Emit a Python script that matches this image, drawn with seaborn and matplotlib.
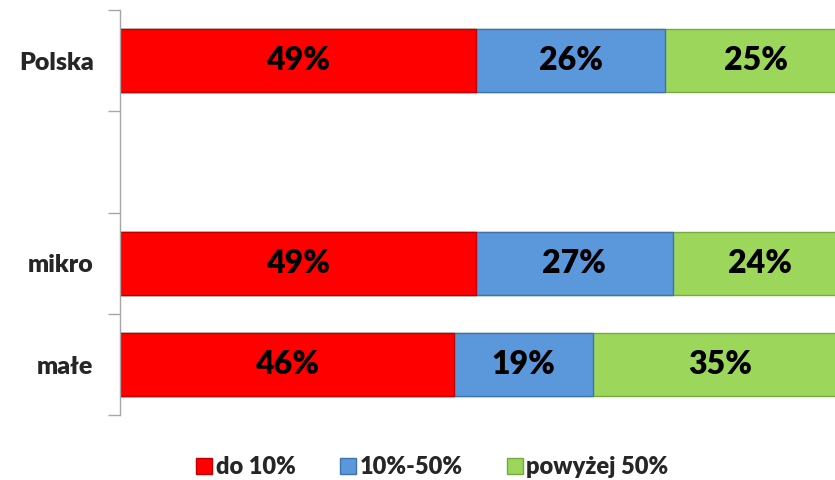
import numpy as np
import pandas as pd
import seaborn as sns
import matplotlib.pyplot as plt
from matplotlib.lines import Line2D

# shares of firms by group (percent)
categories = ["Polska", " ", "mikro", "małe"]
do_10 = [49, np.nan, 49, 46]
od_10_do_50 = [26, np.nan, 27, 19]
powyzej_50 = [25, np.nan, 24, 35]
series_names = ["do 10%", "10%-50%", "powyżej 50%"]
colors = ["#FF0000", "#5B97DB", "#9CD75B"]
edges = ["#C00000", "#3F73B0", "#76A93E"]

sns.set_style("white")
plt.rcParams['font.family'] = ['Lato', 'DejaVu Sans']

dat = pd.DataFrame({"kat": categories, "a": do_10, "b": od_10_do_50, "c": powyzej_50})
dat["ab"] = dat["a"] + dat["b"]
dat["abc"] = dat["ab"] + dat["c"]

fig = plt.figure(figsize=(8.35, 4.8), dpi=100)
# the chart runs a bit past the right edge of the picture
ax = fig.add_axes([0.1437, 0.135, 0.8707, 0.844])

# stacked by overlaying cumulative totals, widest first
for col, c, e in [("abc", colors[2], edges[2]), ("ab", colors[1], edges[1]), ("a", colors[0], edges[0])]:
    sns.barplot(data=dat, y="kat", x=col, order=categories, color=c, orient="h",
                width=0.62, edgecolor=e, linewidth=1.0, saturation=1, ax=ax)

# percent labels in the middle of each segment
for i, row in dat.iterrows():
    if np.isnan(row["a"]):
        continue
    starts = [0, row["a"], row["ab"]]
    vals = [row["a"], row["b"], row["c"]]
    for s, v in zip(starts, vals):
        ax.text(s + v / 2, i, f"{int(v)}%", ha="center", va="center",
                fontsize=23, fontweight="heavy", color="black")

ax.set_xlim(0, 100)
ax.set_ylim(len(categories) - 0.5, -0.5)
ax.set_xlabel("")
ax.set_ylabel("")
ax.set_xticks([])
ax.tick_params(axis="y", which="major", length=0, pad=19, labelsize=18)
for lab in ax.get_yticklabels():
    lab.set_fontweight("heavy")
ax.set_yticks(np.arange(-0.5, len(categories)), minor=True)
ax.tick_params(axis="y", which="minor", left=True, length=9, width=1, color="#A6A6A6", direction="out")
for s in ["top", "right", "bottom"]:
    ax.spines[s].set_visible(False)
ax.spines["left"].set_color("#A6A6A6")
ax.spines["left"].set_linewidth(1)

handles = [Line2D([], [], marker="s", linestyle="", markersize=12, markerfacecolor=c,
                  markeredgecolor=e) for c, e in zip(colors, edges)]
fig.legend(handles, series_names, loc="center", bbox_to_anchor=(0.517, 0.027), ncol=3,
           frameon=False, prop={"size": 17, "weight": "heavy"}, handletextpad=0.1,
           columnspacing=1.8, handlelength=0.8)

fig.savefig("out.png", dpi=100)
